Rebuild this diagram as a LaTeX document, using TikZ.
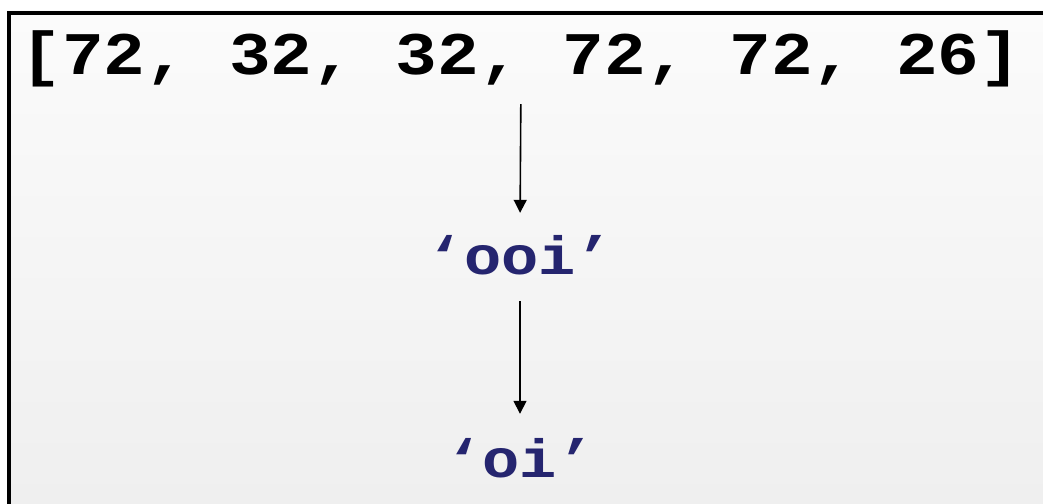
\documentclass[tikz,border=0pt]{standalone}
\usepackage{fontspec}
\setmonofont{Liberation Mono}
\usetikzlibrary{arrows.meta}
\definecolor{codeblue}{HTML}{25256F}
\definecolor{bgtop}{HTML}{FBFBFB}
\definecolor{bgbottom}{HTML}{EFEFEF}
% monospaced bold text, squeezed a little vertically
\newcommand{\codeline}[2]{\scalebox{1}[0.87]{\fontsize{#1}{#1}\selectfont #2}}
\tikzset{
  codetext/.style={inner sep=0pt, text depth=0pt, text height=44bp, anchor=base,
                   font=\ttfamily\bfseries},
  valuetext/.style={codetext, text=codeblue},
  flow/.style={line width=1.6bp, -{Triangle[width=13bp,length=13bp]}}
}
\begin{document}
\begin{tikzpicture}[x=1bp,y=-1bp]
  % page and slide background
  \useasboundingbox (0,0) rectangle (1043,504);
  \fill[white] (0,0) rectangle (1043,504);
  \shade[top color=bgtop, bottom color=bgbottom] (7,11) rectangle (1043,504);
  \fill[black] (7,11) rectangle (1043,15);
  \fill[black] (7,11) rectangle (11,504);

  % byte list and the strings derived from it
  \node[codetext] (list) at (521,75) {\codeline{69.5bp}{[72, 32, 32, 72, 72, 26]}};
  \node[valuetext] (mid) at (520,275) {\codeline{62bp}{‘ooi’}};
  \node[valuetext] (bot) at (520,477) {\codeline{62bp}{‘oi’}};

  \draw[flow, shorten <=29bp, shorten >=18bp] (list.south) -- (mid.north);
  \draw[flow, shorten <=26bp, shorten >=19bp] (mid.south) -- (bot.north);
\end{tikzpicture}
\end{document}
